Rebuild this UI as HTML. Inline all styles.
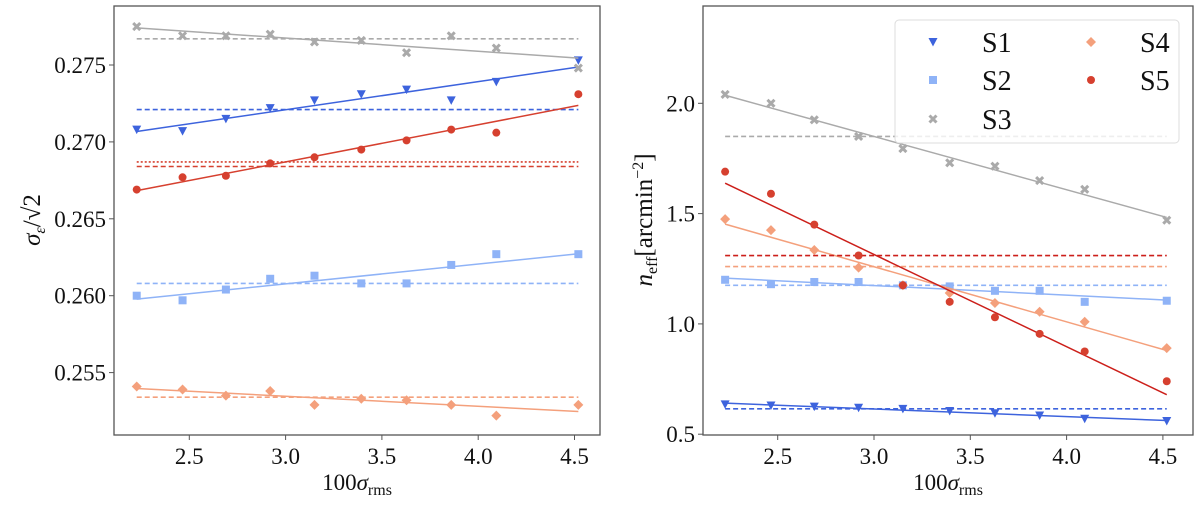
<!DOCTYPE html>
<html><head><meta charset="utf-8"><style>
body{margin:0;background:#fff;width:1200px;height:502px;overflow:hidden}
svg, svg text, svg tspan{font-family:"Liberation Serif","DejaVu Serif",serif}
</style></head><body>
<svg id="fig" width="1200" height="502" xmlns="http://www.w3.org/2000/svg" font-family="Liberation Serif, serif"></svg>
<script>
const xs = [2.227,2.465,2.69,2.92,3.15,3.393,3.628,3.86,4.094,4.52];
const xTicks = [2.5,3.0,3.5,4.0,4.5];
const seriesNames = ["S1","S2","S3","S4","S5"];
const leftS1 = [0.2708,0.2707,0.2715,0.2722,0.2727,0.2731,0.2734,0.2727,0.2739,0.2753];
const leftS2 = [0.2600,0.2597,0.2604,0.2611,0.2613,0.2608,0.2608,0.2620,0.2627,0.2627];
const leftS3 = [0.2775,0.2769,0.2769,0.2770,0.2765,0.2766,0.2758,0.2769,0.2761,0.2748];
const leftS4 = [0.2541,0.2539,0.2535,0.2538,0.2529,0.2533,0.2532,0.2529,0.2522,0.2529];
const leftS5 = [0.2669,0.2677,0.2678,0.2686,0.2690,0.2695,0.2701,0.2708,0.2706,0.2731];
const leftMeans = [0.2721,0.2608,0.2767,0.2534,0.2684];
const leftS5Dotted = 0.2687;
const leftYTicks = [0.255,0.260,0.265,0.270,0.275];
const rightS1 = [0.635,0.63,0.625,0.62,0.615,0.605,0.595,0.585,0.57,0.56];
const rightS2 = [1.20,1.18,1.19,1.19,1.175,1.17,1.15,1.15,1.10,1.105];
const rightS3 = [2.04,2.00,1.925,1.85,1.795,1.73,1.715,1.65,1.61,1.47];
const rightS4 = [1.475,1.425,1.335,1.255,1.175,1.14,1.095,1.055,1.01,0.89];
const rightS5 = [1.69,1.59,1.45,1.31,1.175,1.10,1.03,0.955,0.875,0.74];
const rightMeans = [0.615,1.175,1.85,1.26,1.31];
const rightYTicks = [0.5,1.0,1.5,2.0];

const colors = ["#3d63dd","#8fb3f7","#aaaaaa","#f4a07c","#d6402f"];
const fitColorsR = ["#3d63dd","#8fb3f7","#aaaaaa","#f4a07c","#cc1f1a"];
const FF='"Liberation Serif", serif';
const NS="http://www.w3.org/2000/svg";
const svg=document.getElementById('fig');
function mk(tag,attrs,parent){const e=document.createElementNS(NS,tag);for(const k in attrs)e.setAttribute(k,attrs[k]);if(tag==='text')e.style.fontFamily=FF;(parent||svg).appendChild(e);return e;}
function fit(x,y){const n=x.length;let mx=0,my=0;for(let i=0;i<n;i++){mx+=x[i];my+=y[i];}mx/=n;my/=n;let a=0,b=0;for(let i=0;i<n;i++){a+=(x[i]-mx)*(y[i]-my);b+=(x[i]-mx)**2;}const s=a/b;return v=>my+s*(v-mx);}
function marker(g,k,cx,cy,c){
  let e;
  if(k===0) e=mk('path',{d:`M${cx-4.5},${cy-4} L${cx+4.5},${cy-4} L${cx},${cy+4.5} Z`,fill:c},g);
  else if(k===1) e=mk('rect',{x:cx-4,y:cy-4,width:8,height:8,fill:c},g);
  else if(k===2){e=mk('path',{d:`M${cx-3.5},${cy-3.5} L${cx+3.5},${cy+3.5} M${cx+3.5},${cy-3.5} L${cx-3.5},${cy+3.5}`,stroke:c,'stroke-width':3},g);}
  else if(k===3) e=mk('path',{d:`M${cx},${cy-5} L${cx+5},${cy} L${cx},${cy+5} L${cx-5},${cy} Z`,fill:c},g);
  else e=mk('circle',{cx:cx,cy:cy,r:4,fill:c},g);
  
  
  return e;
}
function panel(opt){
  const g=mk('g',{});
  
  
  const X=v=>opt.x0+(v-2.5)/0.5*96.3;
  const Y=v=>opt.yRef+(opt.vRef-v)/opt.vStep*opt.pxStep;
  opt.series.forEach((d,k)=>{
    const sg=mk('g',{},g);
    
    
    const m=mk('line',{x1:X(xs[0]),x2:X(xs[xs.length-1]),y1:Y(opt.means[k]),y2:Y(opt.means[k]),stroke:opt.fitCols[k],'stroke-width':1.6,'stroke-dasharray':'5,3'},sg);
    
    
    const f=fit(xs,d);
    const l=mk('line',{x1:X(xs[0]),x2:X(xs[xs.length-1]),y1:Y(f(xs[0])),y2:Y(f(xs[xs.length-1])),stroke:opt.fitCols[k],'stroke-width':1.5},sg);
    
    
    d.forEach((v,i)=>marker(sg,k,X(xs[i]),Y(v),colors[k]));
  });
  if(opt.dotted!==undefined){
    const dl=mk('line',{x1:X(xs[0]),x2:X(xs[xs.length-1]),y1:Y(opt.dotted),y2:Y(opt.dotted),stroke:colors[4],'stroke-width':1.6,'stroke-dasharray':'2,2'},g);
    
    
  }
  const fr=mk('rect',{x:opt.l,y:opt.t,width:opt.r-opt.l,height:opt.b-opt.t,fill:'none',stroke:'#555','stroke-width':1.3},g);
  
  
  xTicks.forEach(t=>{
    const tl=mk('line',{x1:X(t),x2:X(t),y1:opt.b,y2:opt.b+5,stroke:'#555'},g);
    
    
    const tx=mk('text',{x:X(t),y:opt.b+29,'font-size':23,'text-anchor':'middle',fill:'#111'},g);
    tx.textContent=t.toFixed(1);
    
    
  });
  opt.yTicks.forEach(t=>{
    const tl=mk('line',{x1:opt.l-5,x2:opt.l,y1:Y(t),y2:Y(t),stroke:'#555'},g);
    
    
    const tx=mk('text',{x:opt.l-8,y:Y(t)+8,'font-size':23,'text-anchor':'end',fill:'#111'},g);
    tx.textContent=t.toFixed(opt.dec);
    
    
  });
  const xt=mk('text',{x:(opt.l+opt.r)/2,y:490,'font-size':23,'text-anchor':'middle',fill:'#111'},g);
  xt.innerHTML='100<tspan font-style="italic">σ</tspan><tspan font-size="16" dy="5">rms</tspan>';
  
  
  return g;
}
panel({name:'left-panel',l:114,r:600,t:6,b:435,x0:189.3,yRef:65,vRef:0.275,vStep:0.005,pxStep:76.9,
  series:[leftS1,leftS2,leftS3,leftS4,leftS5],means:leftMeans,fitCols:colors,yTicks:leftYTicks,dec:3,dotted:leftS5Dotted});
panel({name:'right-panel',l:703,r:1193,t:6,b:435,x0:777.7,yRef:103.3,vRef:2.0,vStep:0.5,pxStep:110.3,
  series:[rightS1,rightS2,rightS3,rightS4,rightS5],means:rightMeans,fitCols:fitColorsR,yTicks:rightYTicks,dec:1});
const yl=mk('text',{x:0,y:0,'font-size':25,'text-anchor':'middle',fill:'#111',transform:'translate(40,220) rotate(-90)'});
yl.innerHTML='<tspan font-style="italic">σ</tspan><tspan font-size="16" dy="5" font-style="italic">ε</tspan><tspan dy="-5">/√2</tspan>';


const yr=mk('text',{x:0,y:0,'font-size':25,'text-anchor':'middle',fill:'#111',transform:'translate(652,220) rotate(-90)'});
yr.innerHTML='<tspan font-style="italic">n</tspan><tspan font-size="16" dy="5">eff</tspan><tspan dy="-5">[arcmin</tspan><tspan font-size="16" dy="-9">−2</tspan><tspan dy="9">]</tspan>';


const lg=mk('g',{});


mk('rect',{x:895,y:20,width:284,height:123,rx:4,fill:'rgba(255,255,255,0.8)',stroke:'#ddd'},lg);
const legPos=[[933,982,42],[933,982,80],[933,982,119],[1091,1140,42],[1091,1140,80]];
seriesNames.forEach((n,k)=>{
  const eg=mk('g',{},lg);
  
  
  marker(eg,k,legPos[k][0],legPos[k][2],colors[k]);
  const t=mk('text',{x:legPos[k][1],y:legPos[k][2]+10,'font-size':28,'text-anchor':'start',fill:'#111'},eg);
  t.textContent=n;
});
</script>
</body></html>
